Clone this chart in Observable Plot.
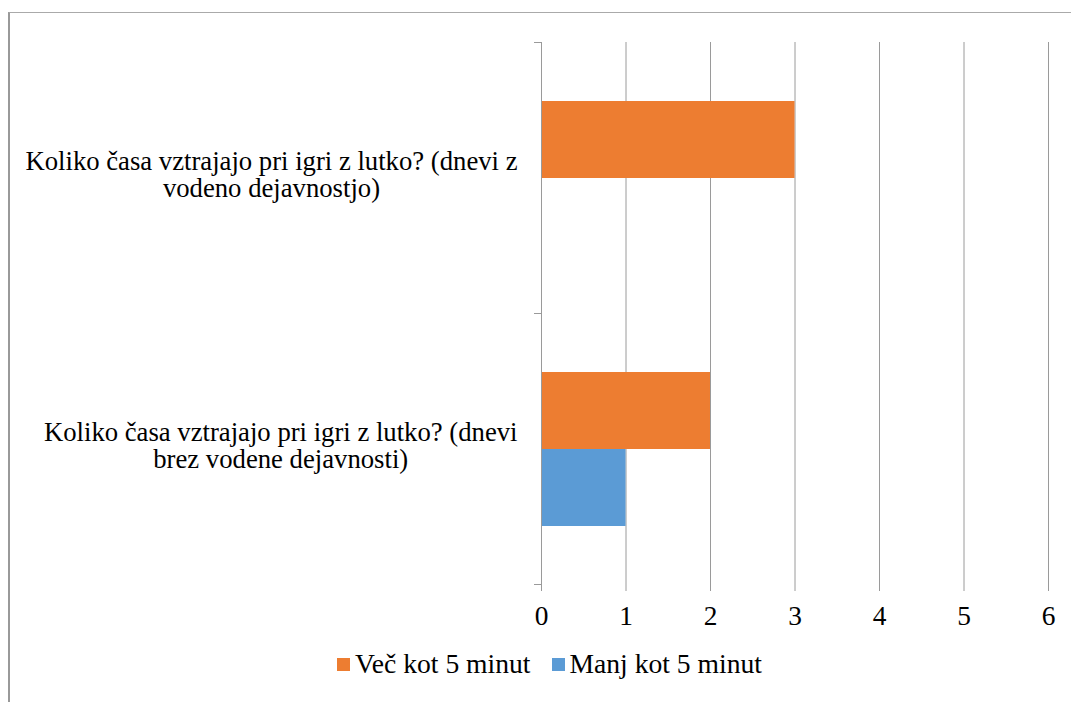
<!DOCTYPE html>
<html>
<head>
<meta charset="utf-8">
<script src="https://cdn.jsdelivr.net/npm/d3@7"></script>
<script src="https://cdn.jsdelivr.net/npm/@observablehq/plot@0.6"></script>
<style>
  html, body { margin: 0; padding: 0; background: #fff; }
  #wrap { position: relative; width: 1071px; height: 702px; overflow: hidden; }
  #border { position: absolute; left: 8px; top: 12px; width: 1200px; height: 800px; border-top: 1px solid #aaa; border-left: 2px solid #999; box-sizing: border-box; }
  #chart { position: absolute; left: 0; top: 0; }
  #legend { position: absolute; left: 337px; top: 648px; display: flex; align-items: center; font-size: 27.6px; color: #000; white-space: nowrap; }
  .item { display: flex; align-items: center; margin-right: 21px; }
  .sw { width: 13px; height: 13px; margin-right: 5px; }
</style>
</head>
<body>
<div id="wrap">
  <div id="border"></div>
  <div id="chart"></div>
  <div id="legend"></div>
</div>
<script>
const categories = [
  "Koliko časa vztrajajo pri igri z lutko? (dnevi z vodeno dejavnostjo)",
  "Koliko časa vztrajajo pri igri z lutko? (dnevi brez vodene dejavnosti)"
];
const series = ["Več kot 5 minut", "Manj kot 5 minut"];
const vecValues = [3, 2];
const manjValues = [0, 1];
const colors = ["#ED7D31", "#5B9BD5"];
const xTicks = [0, 1, 2, 3, 4, 5, 6];

const data = categories.flatMap((c, i) => [
  {category: c, series: series[0], value: vecValues[i]},
  {category: c, series: series[1], value: manjValues[i]}
]);

const FAMILY = '"Liberation Serif", serif';
const FS = 27.4;
const LFS = 26.7;
const ctx = document.createElement("canvas").getContext("2d");
ctx.font = LFS + "px " + FAMILY;
function wrapLines(text, maxW = 508) {
  const words = text.split(" ");
  const lines = [];
  let cur = "";
  for (const w of words) {
    const t = cur ? cur + " " + w : w;
    if (ctx.measureText(t).width > maxW && cur) { lines.push(cur); cur = w; }
    else cur = t;
  }
  if (cur) lines.push(cur);
  return lines;
}
const wrap = (t) => wrapLines(t).join("\n");
const blockWidth = (t) => Math.max(...wrapLines(t).map(l => ctx.measureText(l).width));

const W = 1071, H = 640, mT = 42, mB = 56, mL = 541, mR = 23;
const step = (H - mT - mB) / categories.length;
const axisGray = "#9a9a9a";
const labelGap = 24;

const chart = Plot.plot({
  width: W, height: H,
  marginLeft: mL, marginRight: mR, marginTop: mT, marginBottom: mB,
  style: {fontFamily: FAMILY, fontSize: FS + "px", background: "transparent", overflow: "visible"},
  x: {domain: [0, 6]},
  y: {domain: series, axis: null, paddingInner: 0, paddingOuter: 0.75},
  fy: {domain: categories, padding: 0, axis: null},
  color: {domain: series, range: colors},
  marks: [
    Plot.gridX({ticks: xTicks, stroke: axisGray, strokeOpacity: 1, strokeWidth: 1}),
    Plot.barX(data, {x: "value", y: "series", fy: "category", fill: "series"}),
    Plot.ruleX([0], {stroke: axisGray}),
    Plot.axisX({ticks: xTicks, tickFormat: d => String(d), tickSize: 7, tickPadding: 14, stroke: axisGray, fill: "black", line: true, label: null}),
    ...categories.map(c => Plot.text([c], {
      fy: d => d, text: wrap, frameAnchor: "left", textAnchor: "middle",
      dx: -(labelGap + blockWidth(c) / 2), dy: -3, lineHeight: 1.02, fontSize: LFS, fill: "black"
    })),
    Plot.axisFy({anchor: "left", tickSize: 7, tickFormat: () => "", dy: -step / 2, stroke: axisGray, label: null}),
    Plot.axisFy({ticks: [categories[categories.length - 1]], anchor: "left", tickSize: 7, tickFormat: () => "", dy: step / 2, stroke: axisGray, label: null})
  ]
});
chart.style.fontFamily = FAMILY;
document.getElementById("chart").appendChild(chart);

const legend = document.getElementById("legend");
legend.style.fontFamily = FAMILY;
series.forEach((s, i) => {
  const item = document.createElement("div");
  item.className = "item";
  const sw = document.createElement("div");
  sw.className = "sw";
  sw.style.background = colors[i];
  const label = document.createElement("span");
  label.textContent = s;
  item.appendChild(sw);
  item.appendChild(label);
  legend.appendChild(item);
});
</script>
</body>
</html>
